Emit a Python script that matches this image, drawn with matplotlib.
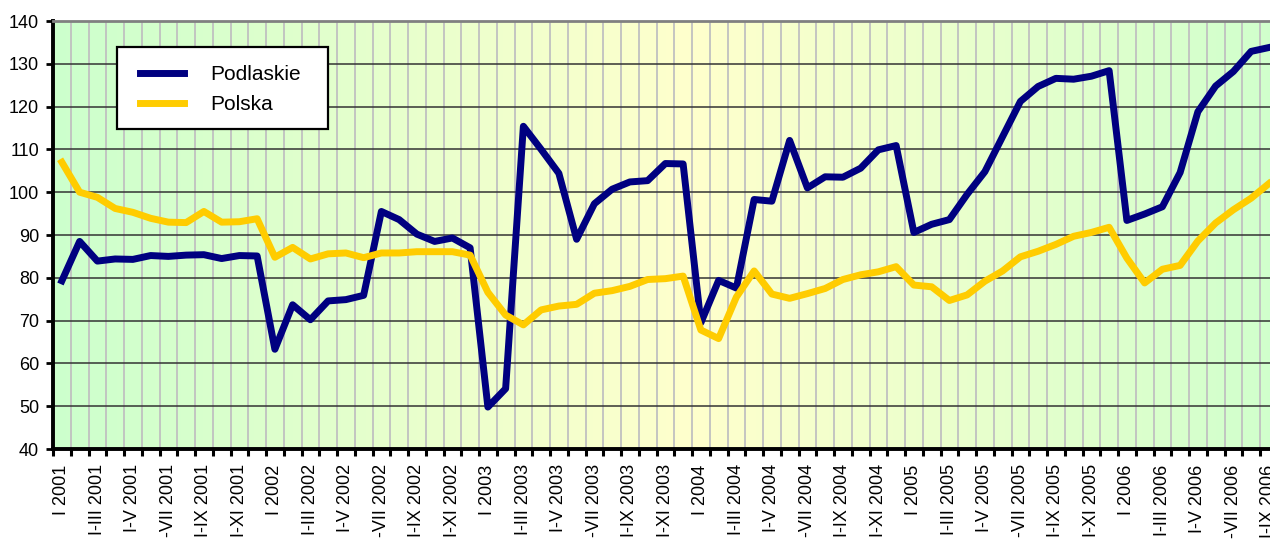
"""Dynamika wskaźnika: Podlaskie na tle Polski, okresy narastające 2001-2006."""

import matplotlib.pyplot as plt
import numpy as np
from matplotlib.patches import Rectangle

lata = [2001, 2002, 2003, 2004, 2005, 2006]
miesiace = ["I", "II", "III", "IV", "V", "VI", "VII", "VIII", "IX", "X", "XI", "XII"]

podlaskie = [
    79.3, 88.5, 83.9, 84.4, 84.3, 85.2, 85.0, 85.3, 85.4, 84.5, 85.2, 85.1,
    63.3, 73.7, 70.2, 74.6, 74.9, 75.9, 95.5, 93.6, 90.2, 88.5, 89.3, 87.0,
    49.8, 54.1, 115.4, 110.0, 104.4, 89.0, 97.3, 100.7, 102.4, 102.7, 106.7, 106.6,
    69.5, 79.4, 77.6, 98.3, 97.9, 112.1, 101.0, 103.6, 103.5, 105.6, 109.9, 110.9,
    90.6, 92.5, 93.6, 99.5, 104.8, 113.0, 121.2, 124.7, 126.6, 126.4, 127.1, 128.4,
    93.4, 94.9, 96.6, 104.6, 118.8, 124.8, 128.2, 132.9, 133.8,
]
polska = [
    107.0, 100.0, 98.8, 96.2, 95.3, 93.9, 93.0, 92.9, 95.5, 93.0, 93.1, 93.8,
    84.8, 87.1, 84.4, 85.6, 85.8, 84.7, 85.8, 85.8, 86.1, 86.1, 86.1, 85.3,
    76.6, 71.3, 69.0, 72.5, 73.4, 73.8, 76.4, 77.0, 78.0, 79.6, 79.8, 80.4,
    67.8, 65.8, 75.5, 81.6, 76.2, 75.2, 76.3, 77.5, 79.6, 80.7, 81.4, 82.6,
    78.3, 77.9, 74.7, 76.0, 79.2, 81.6, 84.9, 86.2, 87.8, 89.7, 90.6, 91.8,
    84.6, 78.8, 82.0, 82.9, 88.6, 92.8, 95.9, 98.6, 102.0,
]

# etykiety okresów: I 2001, I-II 2001, ..., I-XII 2001, I 2002, ...
okresy = []
for rok in lata:
    for m in range(12):
        okresy.append(f"I {rok}" if m == 0 else f"I-{miesiace[m]} {rok}")
okresy = okresy[:len(podlaskie)]

plt.rcParams["font.family"] = ["Liberation Sans", "DejaVu Sans"]

W, H = 1270, 539
n_kat = 72  # obszar wykresu wychodzi poza prawą krawędź obrazka
fig = plt.figure(figsize=(W / 100, H / 100), dpi=100)
ax = fig.add_axes([53 / W, 90 / H, n_kat * 17.75 / W, 428 / H])

# tło: zielony przy brzegach, jasnożółty w środku
t = np.abs(np.linspace(-1, 1, 400))
zielony = np.array([204, 255, 204]) / 255
zolty = np.array([255, 255, 204]) / 255
gradient = (zolty[None, :] * (1 - t[:, None]) + zielony[None, :] * t[:, None])[None, :, :]
ax.imshow(gradient, extent=(-0.5, n_kat - 0.5, 40, 140), aspect="auto", zorder=0)

x = np.arange(len(podlaskie))
ax.plot(x, podlaskie, color="#000080", lw=5, label="Podlaskie", zorder=3)
ax.plot(x, polska, color="#FFCC00", lw=5, label="Polska", zorder=3)

ax.set_xlim(-0.5, n_kat - 0.5)
ax.set_ylim(40, 140)

# siatka pionowa na granicach kategorii, etykiety co drugą kategorię
granice = np.arange(n_kat + 1) - 0.5
for g in granice[1:]:
    ax.axvline(g, color="#C0C0C0", lw=1.3, zorder=1)
for y in range(50, 140, 10):
    ax.axhline(y, color="#333333", lw=1.1, zorder=2)

ax.set_xticks(granice, [""] * len(granice))
ax.set_xticks(x[::2], okresy[::2], minor=True)
ax.tick_params(axis="x", which="major", direction="out", length=5, width=2.2, color="black")
ax.tick_params(axis="x", which="minor", length=0, pad=11, labelsize=13, labelrotation=90)
ax.set_yticks(range(40, 141, 10))
ax.tick_params(axis="y", direction="out", length=5, width=2, pad=5, labelsize=13)

for strona in ["left", "bottom"]:
    ax.spines[strona].set_linewidth(2.8)
    ax.spines[strona].set_color("black")
ax.spines["top"].set_color("#808080")
ax.spines["top"].set_linewidth(2)
ax.spines["right"].set_visible(False)

# ramka legendy
ramka = Rectangle((117 / W, 1 - 129 / H), 211 / W, 82 / H, transform=fig.transFigure,
                  facecolor="white", edgecolor="black", lw=1.6, zorder=4, clip_on=False)
ax.add_patch(ramka)

leg = ax.legend(
    loc="upper left",
    bbox_to_anchor=(140 / W, 1 - 65 / H),
    bbox_transform=fig.transFigure,
    borderaxespad=0,
    borderpad=0,
    fontsize=15,
    frameon=False,
    handlelength=2.1,
    handletextpad=1.25,
    labelspacing=0.55,
)
leg.set_zorder(5)

fig.savefig("out.png", dpi=100)
plt.close(fig)
